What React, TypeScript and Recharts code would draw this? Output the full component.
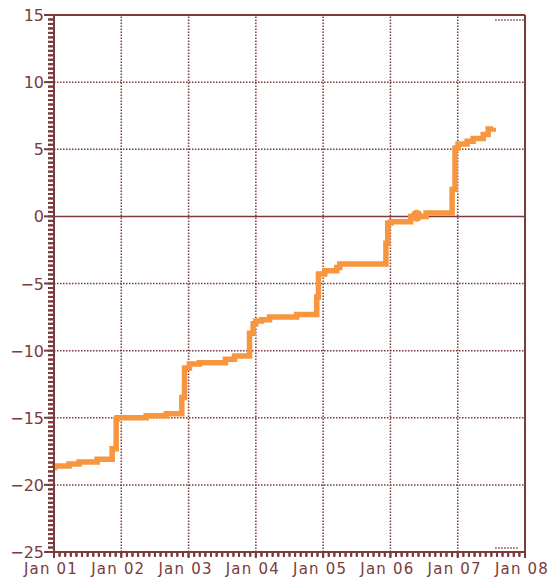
import React from "react";
import { LineChart, Line, XAxis, YAxis, ReferenceLine, ReferenceDot } from "recharts";

const times = [
  2001.0, 2001.01, 2001.224, 2001.373, 2001.641, 2001.864, 2001.924, 2001.939,
  2002.371, 2002.669, 2002.9, 2002.94, 2003.012, 2003.161, 2003.548, 2003.683,
  2003.906, 2003.96, 2004.0, 2004.085, 2004.204, 2004.607, 2004.905, 2004.93,
  2005.024, 2005.203, 2005.247, 2005.933, 2005.96, 2006.01, 2006.3, 2006.53,
  2006.917, 2006.96, 2007.006, 2007.14, 2007.229, 2007.379, 2007.453, 2007.528,
];
const values = [
  -18.7, -18.6, -18.45, -18.3, -18.1, -17.3, -15.1, -15.0,
  -14.85, -14.7, -13.5, -11.3, -11.0, -10.9, -10.65, -10.4,
  -8.7, -8.0, -7.8, -7.7, -7.5, -7.3, -6.0, -4.3,
  -4.05, -3.8, -3.55, -2.0, -0.5, -0.4, 0.0, 0.25,
  2.0, 5.1, 5.4, 5.6, 5.8, 6.1, 6.5, 6.6,
];
const markerPoint = { t: 2006.39, v: 0.05 };

const yearTicks = [2001, 2002, 2003, 2004, 2005, 2006, 2007, 2008];
const yearLabels = ["Jan 01", "Jan 02", "Jan 03", "Jan 04", "Jan 05", "Jan 06", "Jan 07", "Jan 08"];
const yMajorTicks = [-25, -20, -15, -10, -5, 0, 5, 10, 15];
const yGridValues = [-20, -15, -10, -5, 5, 10];
const xGridValues = [2002, 2003, 2004, 2005, 2006, 2007];

const data = times.map((t, i) => ({ t, v: values[i] }));

const xMinorTicks: number[] = [];
for (let m = 0; m <= 84; m++) xMinorTicks.push(Math.round((2001 + m / 12) * 10000) / 10000);
const yMinorTicks: number[] = [];
for (let k = 0; k <= 120; k++) yMinorTicks.push(Math.round((-25 + k / 3) * 10000) / 10000);

const AXIS = "#7b3b3d";
const ORANGE = "#f8953f";
const FONT = "'DejaVu Sans', Verdana, sans-serif";

const isNear = (a: number, b: number) => Math.abs(a - b) < 1e-3;

const renderYTick = (props: any) => {
  const { x, y, payload } = props;
  const v = payload.value;
  const major = yMajorTicks.some((m) => isNear(m, v));
  const label = v < 0 ? "\u2212" + Math.abs(Math.round(v)) : String(Math.round(v));
  return (
    <g>
      <rect x={major ? x - 1 : x + 3} y={y - 1} width={major ? 10 : 6} height={2} fill={AXIS} />
      {major && (
        <text x={x - 1} y={y} dy={6} textAnchor="end" fill={AXIS} stroke="none" fontSize={16} fontFamily={FONT}>
          {label}
        </text>
      )}
    </g>
  );
};

const renderXTick = (props: any) => {
  const { x, y, payload } = props;
  const v = payload.value;
  const idx = yearTicks.findIndex((m) => isNear(m, v));
  const major = idx >= 0;
  return (
    <g>
      <rect x={x - 1} y={y - 5} width={2} height={major ? 6 : 4} fill={AXIS} />
      {major && (
        <text
          x={x - 3}
          y={y + 17}
          textAnchor="middle"
          fill={AXIS}
          stroke="none"
          fontSize={15}
          letterSpacing={1.2}
          fontFamily={FONT}
        >
          {yearLabels[idx]}
        </text>
      )}
    </g>
  );
};

export default function App() {
  return (
    <div style={{ position: "absolute", left: 0, top: 0, background: "#fff" }}>
      <LineChart width={552} height={578} data={data} margin={{ top: 15, right: 27, left: 0, bottom: 0 }}>
        <XAxis
          dataKey="t"
          type="number"
          domain={[2001, 2008]}
          ticks={xMinorTicks}
          interval={0}
          tick={renderXTick}
          tickLine={{ stroke: AXIS, strokeWidth: 2 }}
          tickSize={5}
          tickMargin={0}
          height={26}
          axisLine={{ stroke: AXIS, strokeWidth: 2 }}
        />
        <YAxis
          type="number"
          domain={[-25, 15]}
          ticks={yMinorTicks}
          interval={0}
          tick={renderYTick}
          tickLine={{ stroke: AXIS, strokeWidth: 2 }}
          tickSize={6}
          tickMargin={3}
          width={54}
          axisLine={{ stroke: AXIS, strokeWidth: 2 }}
        />
        {yGridValues.map((g) => (
          <ReferenceLine key={"y" + g} y={g} stroke={AXIS} strokeWidth={1.5} strokeDasharray="1.5 1.5" />
        ))}
        {xGridValues.map((g) => (
          <ReferenceLine key={"x" + g} x={g} stroke={AXIS} strokeWidth={1.5} strokeDasharray="1.5 1.5" />
        ))}
        <ReferenceLine
          segment={[{ x: 2007.557, y: 14.63 }, { x: 2008, y: 14.63 }]}
          stroke={AXIS}
          strokeWidth={1.5}
          strokeDasharray="1.5 1.5"
        />
        <ReferenceLine
          segment={[{ x: 2007.557, y: -24.7 }, { x: 2007.9, y: -24.7 }]}
          stroke={AXIS}
          strokeWidth={1.5}
          strokeDasharray="1.5 1.5"
        />
        <ReferenceLine y={0} stroke={AXIS} strokeWidth={1.5} />
        <ReferenceLine y={15} stroke={AXIS} strokeWidth={2} />
        <ReferenceLine x={2008} stroke={AXIS} strokeWidth={2} />
        <Line
          type="stepAfter"
          dataKey="v"
          stroke={ORANGE}
          strokeWidth={5.5}
          dot={false}
          isAnimationActive={false}
        />
        <ReferenceDot x={markerPoint.t} y={markerPoint.v} r={6} fill={ORANGE} stroke="none" />
      </LineChart>
    </div>
  );
}
